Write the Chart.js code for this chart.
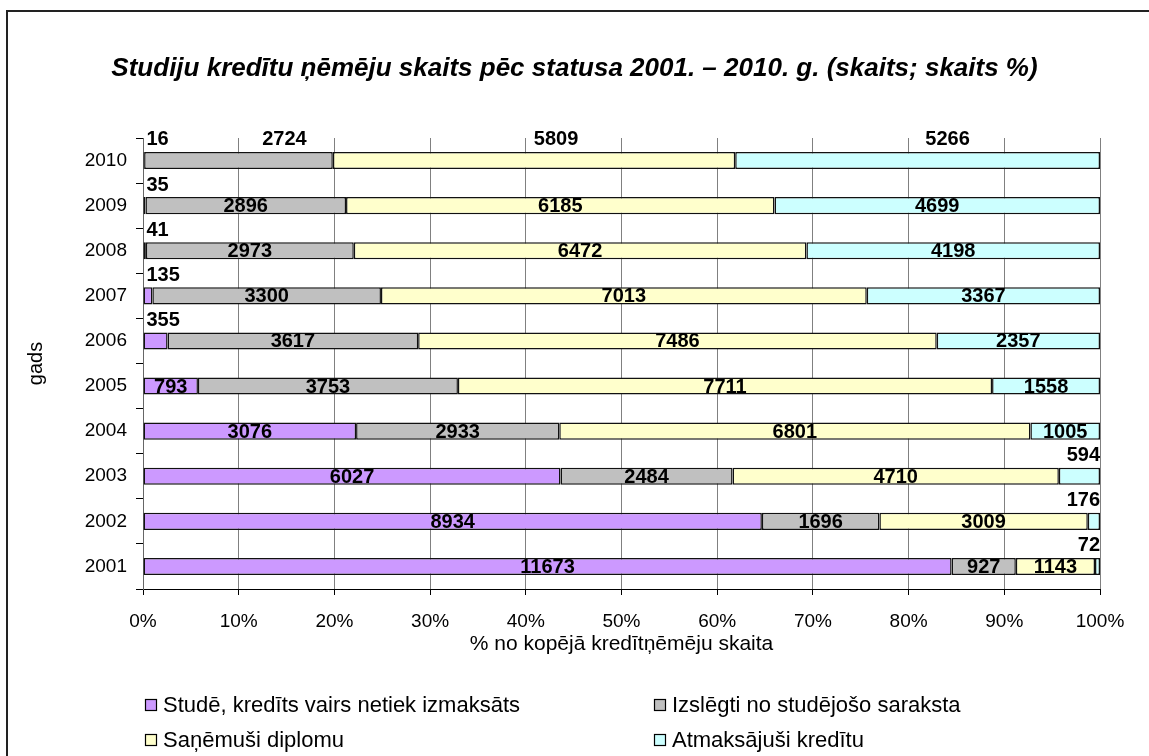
<!DOCTYPE html>
<html>
<head>
<meta charset="utf-8">
<script src="https://cdn.jsdelivr.net/npm/chart.js@4.4.1/dist/chart.umd.min.js"></script>
<style>
  html, body { margin: 0; background: #fff; }
  #wrap { position: relative; width: 1149px; height: 756px; overflow: hidden; }
  #frame { position: absolute; left: 6px; top: 10px; width: 1300px; height: 900px; border-top: 2px solid #222; border-left: 2px solid #222; }
  canvas { position: absolute; left: 0; top: 0; }
</style>
</head>
<body>
<div id="wrap">
  <div id="frame"></div>
  <canvas id="chart" width="1149" height="756"></canvas>
</div>
<script>
const FONT = '"Liberation Sans", Arial, sans-serif';

// data, 2001 .. 2010
const years = ['2001', '2002', '2003', '2004', '2005', '2006', '2007', '2008', '2009', '2010'];
const seriesNames = ['Studē, kredīts vairs netiek izmaksāts', 'Izslēgti no studējošo saraksta', 'Saņēmuši diplomu', 'Atmaksājuši kredītu'];
const studying  = [11673, 8934, 6027, 3076, 793, 355, 135, 41, 35, 16];
const expelled  = [927, 1696, 2484, 2933, 3753, 3617, 3300, 2973, 2896, 2724];
const graduated = [1143, 3009, 4710, 6801, 7711, 7486, 7013, 6472, 6185, 5809];
const repaid    = [72, 176, 594, 1005, 1558, 2357, 3367, 4198, 4699, 5266];
const colors    = ['#CC99FF', '#C0C0C0', '#FFFFCC', '#CCFFFF'];
const chartTitle = 'Studiju kredītu ņēmēju skaits pēc statusa 2001. – 2010. g. (skaits; skaits %)';

const counts = [studying, expelled, graduated, repaid];
const totals = years.map((_, j) => counts.reduce((a, s) => a + s[j], 0));

// top row has its labels lifted above the bar, shifted like the original
const topRowYear = '2010';
const topRowShift = [0, 46, 22, 30];

const valueLabels = {
  id: 'valueLabels',
  afterDatasetsDraw(chart) {
    const ctx = chart.ctx;
    ctx.save();
    ctx.font = 'bold 20px ' + FONT;
    ctx.fillStyle = '#000';
    ctx.textBaseline = 'middle';
    chart.data.datasets.forEach((ds, i) => {
      chart.getDatasetMeta(i).data.forEach((bar, j) => {
        const { x, y, base, height } = bar.getProps(['x', 'y', 'base', 'height'], true);
        const txt = String(counts[i][j]);
        const w = ctx.measureText(txt).width;
        const above = y - height / 2 - 12;
        if (years[j] === topRowYear) {
          if (i === 0) { ctx.textAlign = 'left'; ctx.fillText(txt, base + 3, above); }
          else { ctx.textAlign = 'center'; ctx.fillText(txt, (base + x) / 2 + topRowShift[i], above); }
        } else if (w + 10 > x - base) {
          // too narrow: put it above the bar
          if (i === 0) { ctx.textAlign = 'left'; ctx.fillText(txt, base + 3, above); }
          else { ctx.textAlign = 'right'; ctx.fillText(txt, x, above); }
        } else {
          ctx.textAlign = 'center';
          ctx.fillText(txt, (base + x) / 2, y + 1);
        }
      });
    });
    ctx.restore();
  }
};

// title centred on the whole picture + two-column legend
const decorations = {
  id: 'decorations',
  afterDraw(chart) {
    const ctx = chart.ctx;
    ctx.save();
    ctx.fillStyle = '#000';
    ctx.textBaseline = 'middle';
    ctx.textAlign = 'center';
    ctx.font = 'italic bold 26px ' + FONT;
    ctx.fillText(chartTitle, chart.width / 2, 69);

    const cols = [145, 654];
    const rows = [705, 740];
    ctx.font = '22px ' + FONT;
    ctx.textAlign = 'left';
    seriesNames.forEach((name, i) => {
      const bx = cols[i % 2], by = rows[Math.floor(i / 2)];
      ctx.fillStyle = colors[i];
      ctx.fillRect(bx, by - 6, 12, 12);
      ctx.strokeStyle = '#000';
      ctx.lineWidth = 1.2;
      ctx.strokeRect(bx + 0.5, by - 5.5, 11, 11);
      ctx.fillStyle = '#000';
      ctx.fillText(name, bx + 18, by + 1);
    });
    ctx.restore();
  }
};

new Chart(document.getElementById('chart'), {
  type: 'bar',
  data: {
    labels: years,
    datasets: seriesNames.map((name, i) => ({
      label: name,
      data: counts[i].map((v, j) => v / totals[j] * 100),
      backgroundColor: colors[i],
      borderColor: '#111',
      borderWidth: 1.5,
      borderSkipped: false,
      barPercentage: 0.38,
      categoryPercentage: 1
    }))
  },
  options: {
    indexAxis: 'y',
    responsive: false,
    animation: false,
    layout: { padding: { left: 8, right: 49, top: 138, bottom: 99 } },
    plugins: {
      legend: { display: false },
      tooltip: { enabled: false },
      title: { display: false }
    },
    scales: {
      x: {
        stacked: true, min: 0, max: 100,
        ticks: { stepSize: 10, callback: (v) => v + '%', color: '#000', font: { family: FONT, size: 19 }, padding: 15, maxRotation: 0 },
        grid: { color: '#808080', tickLength: 6, tickColor: '#000' },
        border: { color: '#000' },
        title: { display: true, text: '% no kopējā kredītņēmēju skaita', color: '#000', font: { family: FONT, size: 21 }, padding: 0 },
        afterFit: (s) => { s.height = 68; }
      },
      y: {
        stacked: true, reverse: true,
        ticks: { color: '#000', font: { family: FONT, size: 19 }, padding: 9 },
        grid: { drawOnChartArea: false, tickLength: 7, color: '#000' },
        border: { color: '#666' },
        title: { display: true, text: 'gads', color: '#000', font: { family: FONT, size: 20 }, padding: { top: 16, bottom: 0 } },
        afterFit: (s) => { s.width = 135; }
      }
    }
  },
  plugins: [valueLabels, decorations]
});
</script>
</body>
</html>
